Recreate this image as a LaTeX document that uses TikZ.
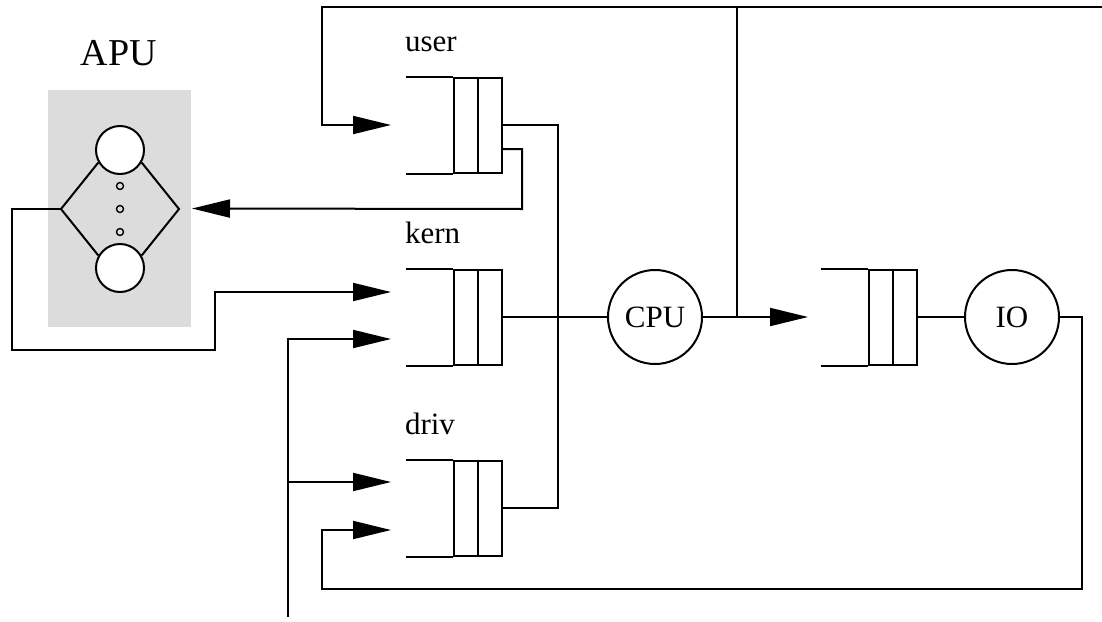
\documentclass[tikz,border=0pt]{standalone}
\usepackage{fontspec}
\setmainfont{Liberation Serif}
\usetikzlibrary{arrows.meta,calc}
\definecolor{apugray}{HTML}{DCDCDC}
\begin{document}
\begin{tikzpicture}[x=0.5pt,y=-0.5pt,line width=1pt,
  every node/.style={font=\fontsize{15.5}{18}\selectfont},
  cell/.style={draw,rectangle,minimum width=24pt,minimum height=47.5pt,inner sep=0pt},
  srv/.style={draw,circle,minimum size=47pt,inner sep=0pt},
  pe/.style={draw,circle,fill=white,minimum size=24pt,inner sep=0pt},
  dot/.style={draw,circle,minimum size=3.5pt,inner sep=0pt,line width=0.7pt},
  tip/.style={-{Triangle[length=19pt,width=9pt]}},
  qlabel/.style={anchor=base west,inner sep=0pt}]
\useasboundingbox (0,0) rectangle (1102,621);
\node[fill=apugray,minimum width=71.5pt,minimum height=118.5pt,inner sep=0pt] (apu) at (119.5,208.5) {};
\node[font=\fontsize{19}{22}\selectfont,anchor=base] (apulbl) at (119,65) {APU};
\node[pe] (pe1) at (120,150) {};
\node[pe] (pe2) at (120,268) {};
\coordinate (apul) at (61,209);
\coordinate (apur) at (179,209);
\draw (pe1.210) -- (apul) -- (pe2.150);
\draw (pe1.330) -- (apur) -- (pe2.30);
\foreach \y in {186,209,232} \node[dot] (dot\y) at (120,\y) {};
\node[cell] (user) at (478,125) {};
\node[cell] (kern) at (478,317) {};
\node[cell] (driv) at (478,508) {};
\node[cell] (ioq) at (893,317) {};
\foreach \q in {user,kern,driv,ioq}{
  \draw (\q.north) -- (\q.south);
  \draw (\q.north west) -- ++(-47,0);
  \draw (\q.south west) -- ++(-47,0);
}
\node[qlabel] (userlbl) at ($(user.north west)+(-49,-25)$) {user};
\node[qlabel] (kernlbl) at ($(kern.north west)+(-49,-25)$) {kern};
\node[qlabel] (drivlbl) at ($(driv.north west)+(-49,-25)$) {driv};
\node[srv] (cpu) at (655,317) {CPU};
\node[srv] (io) at (1012,317) {IO};
\coordinate (split) at (737,317);
\coordinate (topj) at (737,7);
\coordinate (topr) at (1102,7);
\coordinate (topl) at (322,7);
\coordinate (feed) at (288,617);
\coordinate (fork) at (288,482);
\draw (kern.east) -- (cpu.west);
\draw[tip] (cpu.east) -- ($(ioq.west)+(-60,0)$);
\draw (split) -- (topj);
\draw[tip] (topr) -- (topl) |- ($(user.west)+(-62,0)$);
\draw (ioq.east) -- (io.west);
\draw[tip] (io.east) -| (1082,589) -- (322,589) |- ($(driv.west)+(-62,22)$);
\draw (user.east) -| (558,508) -- (driv.east);
\draw[tip] ($(user.east)+(0,24)$) -| (522,209) -- (apu.east);
\draw[tip] (apul) -- (12,209) |- (215,350) |- ($(kern.west)+(-62,-25)$);
\draw[tip] (feed) |- ($(kern.west)+(-62,22)$);
\draw[tip] (fork) -- ($(driv.west)+(-62,-26)$);
\end{tikzpicture}
\end{document}
